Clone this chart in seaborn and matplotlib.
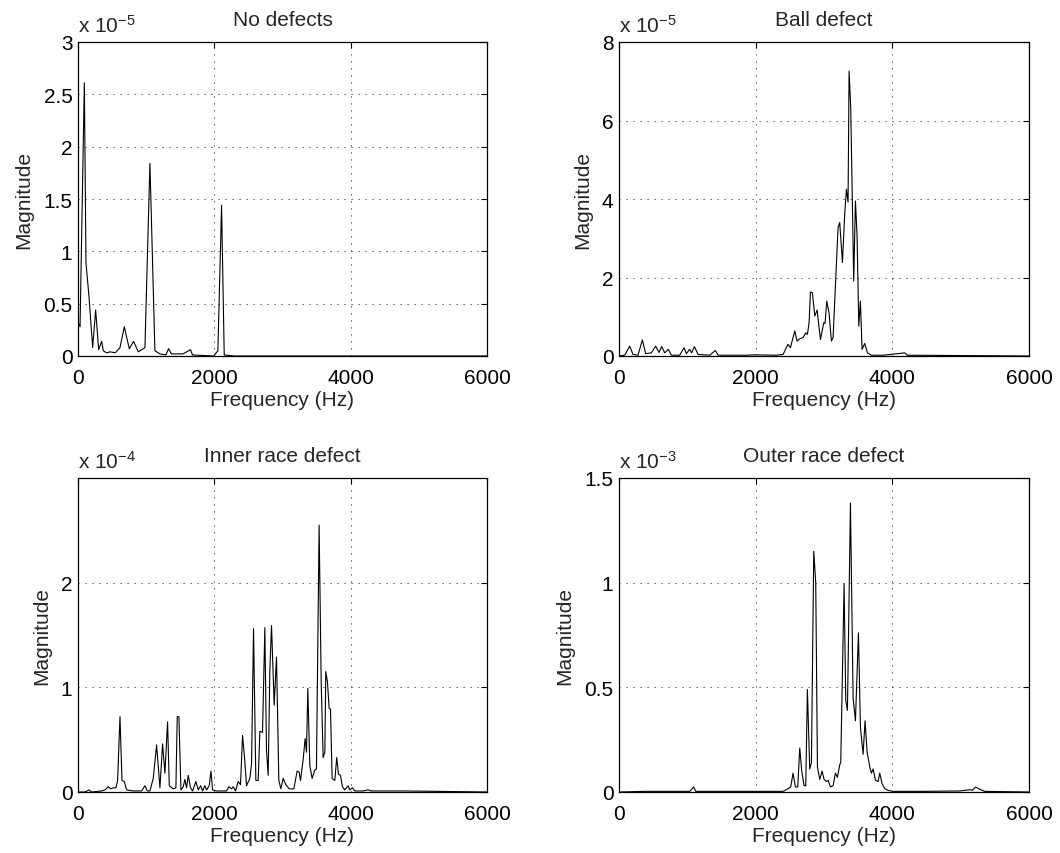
import matplotlib
matplotlib.use("Agg")
import matplotlib.pyplot as plt
import seaborn as sns
import numpy as np

# ---------------- data (magnitudes in units of 10^exp) ----------------
nd_freq = [0, 30, 93, 117, 161, 215, 259, 303, 347, 371, 420, 470, 545, 616, 679, 752, 816, 884,
           982, 1055, 1090, 1128, 1202, 1290, 1329, 1370, 1540, 1651, 1680, 1990, 2052, 2106, 2145,
           2300, 6000]
nd_mag = [0.32, 0.28, 2.61, 0.89, 0.57, 0.08, 0.44, 0.06, 0.14, 0.05, 0.03, 0.04, 0.03, 0.08, 0.28,
          0.07, 0.14, 0.04, 0.08, 1.84, 0.99, 0.05, 0.02, 0.01, 0.07, 0.02, 0.02, 0.06, 0.01, 0.0,
          0.05, 1.44, 0.01, 0.0, 0.0]
nd_exp = -5

ball_freq = [0, 83, 156, 205, 278, 342, 390, 473, 537, 586, 625, 669, 722, 766, 888, 952, 986, 1034,
             1063, 1103, 1157, 1327, 1410, 1450, 1864, 1986, 2303, 2401, 2474, 2508, 2572, 2606, 2645,
             2694, 2733, 2757, 2782, 2801, 2830, 2865, 2899, 2948, 2997, 3016, 3040, 3074, 3108, 3133,
             3167, 3206, 3230, 3270, 3304, 3328, 3352, 3367, 3391, 3435, 3460, 3484, 3509, 3533, 3557,
             3596, 3636, 3694, 3865, 4182, 4216, 6000]
ball_mag = [0.0, 0.02, 0.25, 0.04, 0.02, 0.41, 0.06, 0.08, 0.25, 0.09, 0.24, 0.08, 0.17, 0.02, 0.02,
            0.21, 0.06, 0.17, 0.08, 0.24, 0.04, 0.02, 0.14, 0.02, 0.02, 0.03, 0.02, 0.04, 0.30, 0.21,
            0.64, 0.38, 0.44, 0.47, 0.59, 0.55, 0.85, 1.63, 1.61, 1.02, 1.17, 0.42, 0.85, 0.83, 1.40,
            1.10, 0.38, 0.47, 1.78, 3.27, 3.40, 2.38, 3.65, 4.25, 3.92, 7.26, 6.33, 1.91, 3.95, 3.06,
            0.76, 1.40, 0.17, 0.32, 0.08, 0.02, 0.02, 0.08, 0.02, 0.0]
ball_exp = -5

inner_freq = [0, 103, 161, 200, 347, 396, 445, 479, 518, 557, 581, 616, 645, 679, 713, 811, 933,
              982, 1016, 1055, 1104, 1153, 1202, 1241, 1275, 1314, 1339, 1397, 1436, 1456, 1480,
              1510, 1544, 1568, 1593, 1617, 1651, 1681, 1729, 1764, 1798, 1827, 1861, 1886, 1925,
              1950, 1974, 2033, 2179, 2213, 2252, 2277, 2311, 2350, 2384, 2414, 2448, 2472, 2521,
              2546, 2575, 2609, 2643, 2668, 2707, 2741, 2765, 2790, 2814, 2839, 2878, 2912, 2946,
              2976, 3010, 3049, 3098, 3166, 3215, 3244, 3264, 3303, 3332, 3352, 3371, 3401, 3435,
              3474, 3498, 3537, 3567, 3596, 3621, 3635, 3660, 3684, 3704, 3728, 3767, 3796, 3821,
              3850, 3879, 3913, 3963, 3987, 4026, 4060, 4133, 4182, 4256, 4305, 4476, 4770, 6000]
inner_mag = [0.0, 0.0, 0.02, 0.0, 0.01, 0.02, 0.05, 0.03, 0.04, 0.04, 0.11, 0.72, 0.11, 0.10, 0.02,
             0.01, 0.01, 0.06, 0.01, 0.01, 0.13, 0.45, 0.04, 0.46, 0.18, 0.67, 0.06, 0.03, 0.04,
             0.72, 0.72, 0.02, 0.05, 0.12, 0.04, 0.16, 0.04, 0.01, 0.10, 0.02, 0.06, 0.01, 0.06,
             0.02, 0.06, 0.20, 0.02, 0.01, 0.01, 0.05, 0.03, 0.05, 0.01, 0.10, 0.07, 0.54, 0.29,
             0.06, 0.13, 0.27, 1.56, 0.11, 0.11, 0.58, 0.57, 1.57, 0.40, 0.16, 1.15, 1.59, 0.83,
             1.29, 0.11, 0.03, 0.13, 0.07, 0.03, 0.03, 0.20, 0.19, 0.11, 0.31, 0.51, 0.38, 0.99,
             0.25, 0.13, 0.21, 0.22, 2.55, 1.07, 0.33, 0.38, 1.15, 1.05, 0.80, 0.79, 0.13, 0.11,
             0.33, 0.17, 0.16, 0.05, 0.02, 0.06, 0.02, 0.04, 0.01, 0.01, 0.01, 0.02, 0.01, 0.01,
             0.01, 0.0]
inner_exp = -4

outer_freq = [0, 376, 693, 1035, 1093, 1122, 1376, 1913, 2401, 2474, 2513, 2547, 2582, 2616, 2645,
              2674, 2708, 2733, 2757, 2791, 2816, 2850, 2879, 2904, 2938, 2972, 3001, 3035, 3060,
              3094, 3133, 3167, 3196, 3230, 3245, 3294, 3318, 3343, 3387, 3426, 3460, 3504, 3533,
              3572, 3601, 3631, 3670, 3694, 3719, 3753, 3792, 3816, 3850, 3889, 3938, 4011, 4450,
              4987, 5060, 5134, 5172, 5221, 5280, 5353, 6000]
outer_mag = [0.0, 0.003, 0.003, 0.003, 0.024, 0.003, 0.003, 0.003, 0.003, 0.016, 0.024, 0.09, 0.024,
             0.024, 0.21, 0.10, 0.03, 0.03, 0.49, 0.11, 0.14, 1.15, 1.00, 0.12, 0.06, 0.10, 0.06,
             0.05, 0.056, 0.024, 0.03, 0.09, 0.07, 0.13, 0.14, 0.995, 0.44, 0.39, 1.38, 0.45, 0.34,
             0.76, 0.31, 0.18, 0.34, 0.19, 0.12, 0.09, 0.11, 0.056, 0.05, 0.09, 0.04, 0.016, 0.008,
             0.003, 0.003, 0.005, 0.008, 0.011, 0.008, 0.024, 0.013, 0.003, 0.0]
outer_exp = -3

titles = ["No defects", "Ball defect", "Inner race defect", "Outer race defect"]
x_ticks = [0, 2000, 4000, 6000]
y_limits = [3, 8, 3, 1.5]
y_ticks = [[0, 0.5, 1, 1.5, 2, 2.5, 3], [0, 2, 4, 6, 8], [0, 1, 2], [0, 0.5, 1, 1.5]]
x_label = "Frequency (Hz)"
y_label = "Magnitude"

# ---------------- style ----------------
sns.set_style("white")
plt.rcParams["font.family"] = ["Liberation Sans", "DejaVu Sans"]
plt.rcParams["mathtext.fontset"] = "custom"
plt.rcParams["mathtext.rm"] = "Liberation Sans"
plt.rcParams["mathtext.it"] = "Liberation Sans"
plt.rcParams["mathtext.sf"] = "Liberation Sans"

FS = 15
fig = plt.figure(figsize=(10.6, 8.54), dpi=100)
W, H = 1060, 854
boxes = [(78, 43, 409, 314), (619, 43, 410, 314), (78, 479, 409, 314), (619, 479, 410, 314)]

series = [(nd_freq, nd_mag, nd_exp), (ball_freq, ball_mag, ball_exp),
          (inner_freq, inner_mag, inner_exp), (outer_freq, outer_mag, outer_exp)]

for i, ((fx, fy, ex), (l, t, w, h)) in enumerate(zip(series, boxes)):
    ax = fig.add_axes([l / W, 1 - (t + h) / H, w / W, h / H])
    sns.lineplot(x=fx, y=fy, ax=ax, color="black", linewidth=0.8, estimator=None, sort=False)
    ax.set_xlim(0, 6000)
    ax.set_ylim(0, y_limits[i])
    ax.set_xticks(x_ticks)
    ax.set_xticklabels([str(v) for v in x_ticks])
    ax.set_yticks(y_ticks[i])
    ax.set_yticklabels([("%g" % v) for v in y_ticks[i]])
    ax.tick_params(direction="in", length=4, width=0.8, top=True, right=True,
                   labelsize=FS, colors="black")
    ax.tick_params(axis="x", pad=9)
    ax.tick_params(axis="y", pad=4)
    for s in ax.spines.values():
        s.set_visible(True)
        s.set_color("black")
        s.set_linewidth(0.9)
    ax.grid(True, color="#333333", linestyle=(0, (1.2, 6)), linewidth=0.7)
    ax.set_axisbelow(True)
    ax.set_title(titles[i], fontsize=FS, pad=12.5)
    ax.set_xlabel(x_label, fontsize=FS, labelpad=2)
    ax.set_ylabel(y_label, fontsize=FS, labelpad=7)
    ax.text(0.0, 1.02, r"x 10$^{\mathregular{%d}}$" % ex, transform=ax.transAxes,
            fontsize=FS, ha="left", va="bottom")

fig.savefig("out.png", dpi=100, facecolor="white")
